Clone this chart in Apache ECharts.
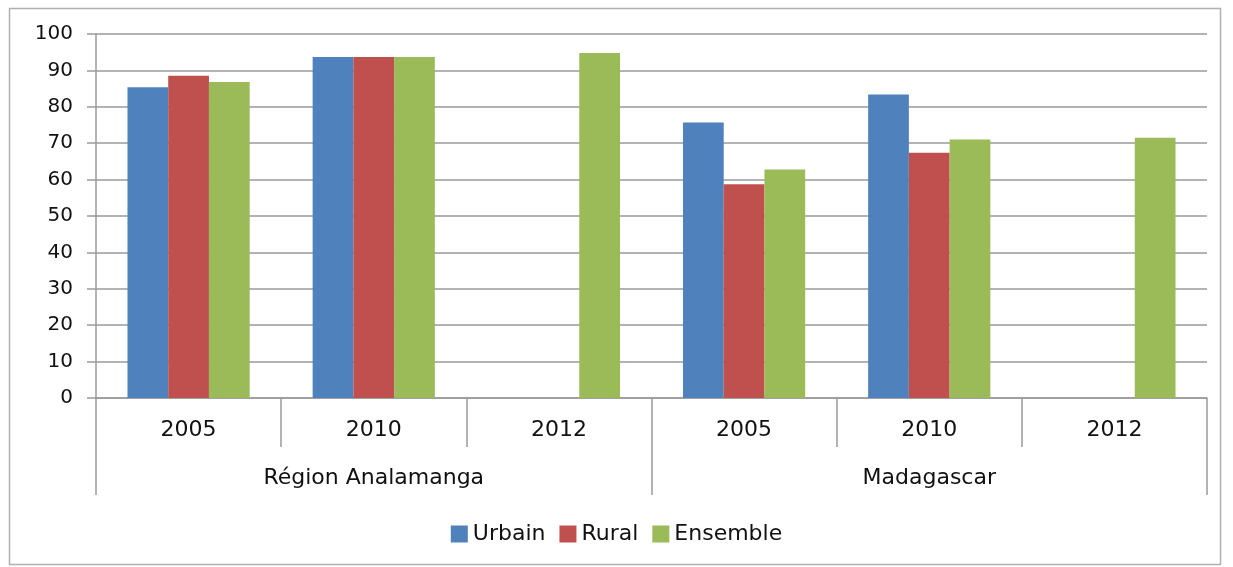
<!DOCTYPE html>
<html><head><meta charset="utf-8">
<script src="https://cdn.jsdelivr.net/npm/echarts@6/dist/echarts.min.js"></script>
<style>html,body{margin:0;padding:0;background:#fff}#c{width:1233px;height:567px}</style>
</head><body><div id="c"></div>
<script>
const years = ['2005','2010','2012','2005','2010','2012'];
const regions = ['Région Analamanga','Madagascar'];
const urbain = [85.4, 93.7, null, 75.7, 83.4, null];
const rural = [88.5, 93.7, null, 58.7, 67.4, null];
const ensemble = [86.8, 93.7, 94.8, 62.8, 71.0, 71.5];
const yTicks = [0,10,20,30,40,50,60,70,80,90,100];

const FONT = 'DejaVu Sans';
const chart = echarts.init(document.getElementById('c'));
const axisGray = '#9a9a9a';
const txt = '#111';
chart.setOption({
  animation: false,
  textStyle: {fontFamily: FONT},
  graphic: [{type:'rect', shape:{x:9.5,y:8.5,width:1211,height:556}, style:{fill:'none', stroke:'#b0b0b0', lineWidth:1.5}}],
  grid: {left: 96, right: 26, top: 34, bottom: 169},
  legend: {
    data: ['Urbain','Rural','Ensemble'], top: 518, left: 'center',
    itemWidth: 17, itemHeight: 17, itemGap: 14, icon: 'rect',
    textStyle: {fontFamily: FONT, fontSize: 22, color: txt}
  },
  xAxis: [
    {type:'category', data: years, position:'bottom',
     axisLine:{lineStyle:{color:axisGray, width:1.5}},
     axisTick:{show:true, length:49, lineStyle:{color:axisGray, width:1.5}},
     axisLabel:{fontFamily:FONT, fontSize:22, color:txt, margin:21}},
    {type:'category', data: regions, position:'bottom',
     axisLine:{show:false},
     axisTick:{show:true, length:97, lineStyle:{color:axisGray, width:1.5}},
     axisLabel:{fontFamily:FONT, fontSize:22, color:txt, margin:69}}
  ],
  yAxis: {type:'value', min:0, max:100, interval:10,
    axisLine:{show:true, lineStyle:{color:axisGray, width:1.5}},
    axisTick:{show:true, length:9, lineStyle:{color:axisGray, width:1.5}},
    splitLine:{lineStyle:{color:axisGray, width:1.5}},
    axisLabel:{fontFamily:FONT, fontSize:20, color:txt, margin:23,
      formatter: v => yTicks.includes(v) ? String(v) : ''}},
  series: [
    {name:'Urbain', type:'bar', data: urbain, barWidth:'22%', barGap:'0%', itemStyle:{color:'#4F81BD'}},
    {name:'Rural', type:'bar', data: rural, barWidth:'22%', barGap:'0%', itemStyle:{color:'#C0504D'}},
    {name:'Ensemble', type:'bar', data: ensemble, barWidth:'22%', barGap:'0%', itemStyle:{color:'#9BBB59'}}
  ]
});
</script></body></html>
